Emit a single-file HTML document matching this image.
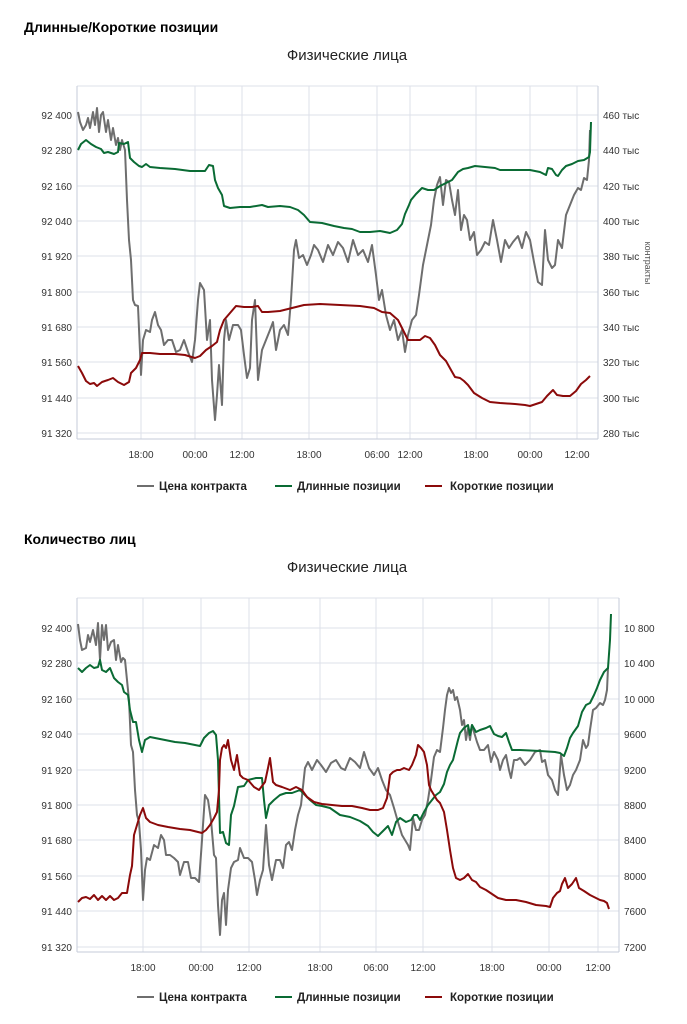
<!DOCTYPE html>
<html><head><meta charset="utf-8"><style>
html,body{margin:0;padding:0;background:#fff;width:687px;height:1024px;overflow:hidden}
svg{display:block;font-family:"Liberation Sans","DejaVu Sans",sans-serif}
</style></head><body>
<svg width="687" height="1024" viewBox="0 0 687 1024" xmlns="http://www.w3.org/2000/svg">
<text x="24" y="32" font-size="14" font-weight="bold" fill="#000">Длинные/Короткие позиции</text>
<text x="347" y="60" font-size="15" text-anchor="middle" fill="#222">Физические лица</text>
<g stroke="#dde1ea" stroke-width="1">
<line x1="77" y1="86" x2="598" y2="86"/><line x1="77" y1="115" x2="598" y2="115"/><line x1="77" y1="150" x2="598" y2="150"/><line x1="77" y1="186" x2="598" y2="186"/><line x1="77" y1="221" x2="598" y2="221"/><line x1="77" y1="256" x2="598" y2="256"/><line x1="77" y1="292" x2="598" y2="292"/><line x1="77" y1="327" x2="598" y2="327"/><line x1="77" y1="362" x2="598" y2="362"/><line x1="77" y1="398" x2="598" y2="398"/><line x1="77" y1="433" x2="598" y2="433"/>
<line x1="141" y1="86" x2="141" y2="439"/><line x1="195" y1="86" x2="195" y2="439"/><line x1="242" y1="86" x2="242" y2="439"/><line x1="309" y1="86" x2="309" y2="439"/><line x1="377" y1="86" x2="377" y2="439"/><line x1="410" y1="86" x2="410" y2="439"/><line x1="476" y1="86" x2="476" y2="439"/><line x1="530" y1="86" x2="530" y2="439"/><line x1="577" y1="86" x2="577" y2="439"/>
</g>
<g stroke="#c5cbd9"><line x1="77" y1="86" x2="77" y2="439"/><line x1="598" y1="86" x2="598" y2="439"/><line x1="77" y1="439" x2="598" y2="439"/></g>
<g font-size="10" fill="#333" text-anchor="end">
<text x="72" y="119">92 400</text><text x="72" y="154">92 280</text><text x="72" y="190">92 160</text><text x="72" y="225">92 040</text><text x="72" y="260">91 920</text><text x="72" y="296">91 800</text><text x="72" y="331">91 680</text><text x="72" y="366">91 560</text><text x="72" y="402">91 440</text><text x="72" y="437">91 320</text>
</g>
<g font-size="10" fill="#333">
<text x="603" y="119">460 тыс</text><text x="603" y="154">440 тыс</text><text x="603" y="190">420 тыс</text><text x="603" y="225">400 тыс</text><text x="603" y="260">380 тыс</text><text x="603" y="296">360 тыс</text><text x="603" y="331">340 тыс</text><text x="603" y="366">320 тыс</text><text x="603" y="402">300 тыс</text><text x="603" y="437">280 тыс</text>
<text transform="translate(645,263) rotate(90)" text-anchor="middle" font-size="9" fill="#555">контракты</text>
</g>
<g font-size="10" fill="#333" text-anchor="middle">
<text x="141" y="458">18:00</text><text x="195" y="458">00:00</text><text x="242" y="458">12:00</text><text x="309" y="458">18:00</text><text x="377" y="458">06:00</text><text x="410" y="458">12:00</text><text x="476" y="458">18:00</text><text x="530" y="458">00:00</text><text x="577" y="458">12:00</text>
</g>
<g fill="none" stroke-width="2" stroke-linejoin="round">
<polyline stroke="#6e6e6e" points="78,112 80,122 83,130 86,125 88,118 90,128 93,112 95,125 97,108 99,132 101,115 103,112 106,132 108,120 111,140 113,128 116,145 118,138 120,150 122,140 125,150 127,200 129,240 131,260 133,300 135,305 138,306 141,375 143,340 146,330 150,332 152,320 155,312 158,325 161,330 164,345 168,340 172,340 176,352 180,350 184,340 188,352 192,362 195,340 198,300 200,283 204,290 207,340 210,320 212,380 215,420 217,395 219,365 222,405 224,340 226,320 229,340 233,325 238,325 241,330 244,355 247,378 250,368 252,320 255,300 258,380 262,350 266,340 270,330 273,322 276,350 280,330 284,325 288,335 291,300 294,250 296,240 299,258 303,255 307,265 311,255 314,245 318,250 323,262 328,245 333,255 338,242 343,248 348,262 353,240 358,255 363,250 368,262 372,245 376,275 379,300 382,290 386,315 390,330 394,320 398,340 402,330 405,352 408,335 412,320 416,315 419,295 423,265 427,245 431,225 434,200 437,185 440,177 443,205 446,180 449,182 452,200 455,215 458,190 461,230 464,215 467,220 470,240 474,232 477,255 481,250 485,242 489,245 493,220 497,240 501,262 505,240 509,248 513,242 518,236 522,248 526,232 530,240 534,262 538,282 542,285 545,230 548,260 552,268 555,265 558,240 562,248 566,215 570,205 574,195 578,188 581,190 584,178 587,180 589,160 590,130"/>
<polyline stroke="#0a6b34" points="78,150 81,144 86,140 91,144 96,147 101,149 104,153 108,152 114,154 118,152 119,143 124,144 128,142 130,158 134,162 139,166 142,167 146,164 150,167 160,168 175,169 190,171 205,171 209,165 213,166 215,180 218,188 222,195 224,206 230,208 240,207 250,207 262,205 268,207 280,206 290,207 298,210 304,215 310,222 322,223 334,226 344,228 352,229 360,232 370,232 380,231 390,233 397,230 402,224 405,214 409,205 411,200 416,194 422,188 428,190 434,190 440,186 446,183 452,180 458,172 463,169 468,168 475,166 485,167 495,168 500,170 510,170 530,170 540,172 546,175 548,168 552,169 556,175 558,176 562,170 566,166 572,164 578,161 584,160 589,157 590,152 591,122"/>
<polyline stroke="#8b0a0a" points="78,366 82,373 86,381 90,384 94,383 97,386 102,382 108,380 113,378 118,382 124,385 129,382 131,373 136,368 140,360 142,353 150,353 160,354 175,354 185,355 195,358 200,356 206,350 212,346 217,342 220,330 224,320 230,313 236,306 244,307 252,307 258,306 262,312 268,312 280,311 288,309 296,307 304,305 320,304 340,305 360,306 374,308 382,312 390,313 398,320 403,330 408,340 414,340 420,340 425,336 430,338 435,345 440,355 446,361 451,370 455,377 460,378 464,381 468,385 474,393 482,398 490,402 500,403 515,404 525,405 530,406 536,404 542,402 547,396 553,390 557,395 563,396 570,396 576,391 581,384 586,380 590,376"/>
</g>
<g font-size="11.5" font-weight="bold" fill="#222">
<line x1="137" y1="486" x2="154" y2="486" stroke="#6e6e6e" stroke-width="2"/><text x="159" y="490">Цена контракта</text>
<line x1="275" y1="486" x2="292" y2="486" stroke="#0a6b34" stroke-width="2"/><text x="297" y="490">Длинные позиции</text>
<line x1="425" y1="486" x2="442" y2="486" stroke="#8b0a0a" stroke-width="2"/><text x="450" y="490">Короткие позиции</text>
</g>

<text x="24" y="544" font-size="14" font-weight="bold" fill="#000">Количество лиц</text>
<text x="347" y="572" font-size="15" text-anchor="middle" fill="#222">Физические лица</text>
<g stroke="#dde1ea" stroke-width="1">
<line x1="77" y1="598" x2="619" y2="598"/><line x1="77" y1="628" x2="619" y2="628"/><line x1="77" y1="663" x2="619" y2="663"/><line x1="77" y1="699" x2="619" y2="699"/><line x1="77" y1="734" x2="619" y2="734"/><line x1="77" y1="770" x2="619" y2="770"/><line x1="77" y1="805" x2="619" y2="805"/><line x1="77" y1="840" x2="619" y2="840"/><line x1="77" y1="876" x2="619" y2="876"/><line x1="77" y1="911" x2="619" y2="911"/><line x1="77" y1="947" x2="619" y2="947"/>
<line x1="143" y1="598" x2="143" y2="952"/><line x1="201" y1="598" x2="201" y2="952"/><line x1="249" y1="598" x2="249" y2="952"/><line x1="320" y1="598" x2="320" y2="952"/><line x1="376" y1="598" x2="376" y2="952"/><line x1="423" y1="598" x2="423" y2="952"/><line x1="492" y1="598" x2="492" y2="952"/><line x1="549" y1="598" x2="549" y2="952"/><line x1="598" y1="598" x2="598" y2="952"/>
</g>
<g stroke="#c5cbd9"><line x1="77" y1="598" x2="77" y2="952"/><line x1="619" y1="598" x2="619" y2="952"/><line x1="77" y1="952" x2="619" y2="952"/></g>
<g font-size="10" fill="#333" text-anchor="end">
<text x="72" y="632">92 400</text><text x="72" y="667">92 280</text><text x="72" y="703">92 160</text><text x="72" y="738">92 040</text><text x="72" y="774">91 920</text><text x="72" y="809">91 800</text><text x="72" y="844">91 680</text><text x="72" y="880">91 560</text><text x="72" y="915">91 440</text><text x="72" y="951">91 320</text>
</g>
<g font-size="10" fill="#333">
<text x="624" y="632">10 800</text><text x="624" y="667">10 400</text><text x="624" y="703">10 000</text><text x="624" y="738">9600</text><text x="624" y="774">9200</text><text x="624" y="809">8800</text><text x="624" y="844">8400</text><text x="624" y="880">8000</text><text x="624" y="915">7600</text><text x="624" y="951">7200</text>
</g>
<g font-size="10" fill="#333" text-anchor="middle">
<text x="143" y="971">18:00</text><text x="201" y="971">00:00</text><text x="249" y="971">12:00</text><text x="320" y="971">18:00</text><text x="376" y="971">06:00</text><text x="423" y="971">12:00</text><text x="492" y="971">18:00</text><text x="549" y="971">00:00</text><text x="598" y="971">12:00</text>
</g>
<g fill="none" stroke-width="2" stroke-linejoin="round">
<polyline stroke="#6e6e6e" points="78,624 80,640 82,650 86,648 88,635 90,642 93,630 96,645 98,623 100,660 102,625 104,640 106,625 108,650 111,642 114,640 116,660 118,645 121,662 123,658 125,660 127,680 129,700 131,745 133,752 135,790 137,815 139,822 141,850 143,900 145,870 147,858 150,860 154,845 158,848 161,835 164,840 166,855 170,855 174,858 178,862 180,875 184,862 188,862 191,878 195,878 199,882 202,840 205,795 208,800 211,820 214,855 216,858 218,905 220,935 222,900 224,893 226,925 228,890 231,868 234,862 238,860 240,848 244,858 248,858 252,862 255,880 257,895 260,880 263,870 266,825 269,865 272,880 276,860 280,860 283,868 286,845 289,842 292,850 295,830 298,815 301,805 305,768 308,762 312,770 317,760 321,765 326,772 331,763 336,760 341,768 345,770 350,758 355,762 360,768 364,752 369,768 374,775 378,768 382,780 386,790 390,795 394,808 398,822 402,835 405,840 408,845 410,850 413,818 416,830 419,830 422,820 425,815 428,800 431,780 434,757 437,750 440,752 443,728 445,710 447,695 449,688 451,693 453,690 455,700 457,697 460,710 462,725 464,720 466,740 468,728 470,740 472,725 474,732 477,742 480,750 484,750 488,745 491,762 494,752 498,760 500,770 503,760 506,755 509,770 511,778 514,760 517,760 520,758 525,765 530,760 535,752 540,750 542,762 545,760 548,775 552,780 555,790 558,795 561,755 564,775 567,790 570,785 573,775 576,770 580,760 583,740 586,748 588,745 590,730 593,710 596,708 600,703 603,705 605,700 607,690 608,668"/>
<polyline stroke="#0a6b34" points="78,668 82,672 86,668 90,665 94,668 98,667 100,660 102,670 106,672 110,668 114,678 118,682 122,685 124,692 128,695 130,710 133,722 136,722 139,740 142,752 145,740 150,737 155,738 165,740 175,742 185,743 195,745 200,746 204,738 209,733 213,731 216,735 218,760 220,833 223,832 226,843 229,845 231,815 234,806 238,787 244,786 248,780 256,778 262,778 264,800 266,818 269,805 274,800 280,795 286,793 292,793 300,790 305,795 310,800 316,805 322,806 330,808 340,815 350,817 360,821 368,826 373,832 378,836 382,832 388,826 392,835 396,822 400,818 406,822 411,820 414,815 417,815 420,820 424,812 428,805 432,800 436,795 440,792 444,784 447,772 450,765 453,760 456,748 458,740 460,733 464,728 468,725 470,735 472,725 476,732 480,730 486,728 490,726 494,734 498,736 502,737 506,733 509,742 512,750 520,750 540,751 555,752 560,753 564,756 567,748 570,738 573,733 578,726 582,712 586,705 590,703 594,695 597,688 600,680 604,672 608,668 610,640 611,614"/>
<polyline stroke="#8b0a0a" points="78,902 82,898 86,897 90,899 94,895 98,900 102,896 106,900 110,896 114,900 118,898 122,893 127,893 130,875 132,866 134,835 137,825 140,815 143,808 146,818 150,822 158,825 168,827 180,829 190,830 198,832 202,833 206,830 210,825 214,818 217,812 219,790 220,760 222,748 224,745 226,748 228,740 231,760 234,770 237,755 240,775 243,778 248,780 254,787 259,790 265,782 268,768 270,758 273,782 276,785 282,787 290,790 296,787 302,790 307,797 314,802 322,804 332,805 342,806 352,806 362,808 370,810 378,810 383,808 387,798 390,775 393,772 397,770 400,770 404,768 409,770 412,765 416,755 418,745 421,748 424,752 427,765 429,785 431,790 434,795 437,800 440,803 444,812 447,830 450,850 453,868 456,878 460,880 464,878 468,874 472,880 476,882 480,887 486,890 492,894 498,898 506,900 516,900 526,902 536,905 546,906 550,907 553,898 557,893 560,891 562,884 565,878 568,888 572,884 576,878 579,888 584,891 590,895 596,898 600,900 604,901 607,903 609,909"/>
</g>
<g font-size="11.5" font-weight="bold" fill="#222">
<line x1="137" y1="997" x2="154" y2="997" stroke="#6e6e6e" stroke-width="2"/><text x="159" y="1001">Цена контракта</text>
<line x1="275" y1="997" x2="292" y2="997" stroke="#0a6b34" stroke-width="2"/><text x="297" y="1001">Длинные позиции</text>
<line x1="425" y1="997" x2="442" y2="997" stroke="#8b0a0a" stroke-width="2"/><text x="450" y="1001">Короткие позиции</text>
</g>
</svg>
</body></html>
